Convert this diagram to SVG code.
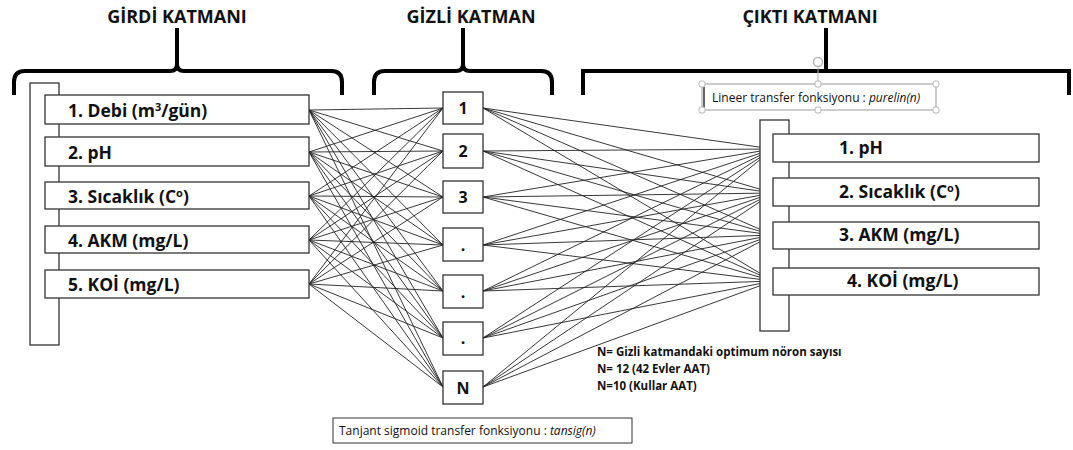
<svg xmlns="http://www.w3.org/2000/svg" width="1073" height="450" viewBox="0 0 1073 450">
  <style>
    .title { font-family: "Open Sans", "Liberation Sans", sans-serif; font-weight: 700; font-size: 18px; fill: #111; }
    .lbl { font-family: "Open Sans", "Liberation Sans", sans-serif; font-weight: 700; font-size: 17.5px; fill: #111; }
    .num { font-family: "Open Sans", "Liberation Sans", sans-serif; font-weight: 700; font-size: 16px; fill: #111; text-anchor: middle; }
    .note { font-family: "Open Sans", "Liberation Sans", sans-serif; font-weight: 700; font-size: 11.5px; fill: #111; }
    .small { font-family: "Open Sans", "Liberation Sans", sans-serif; font-size: 12px; fill: #111; }
    .box { fill: #fff; stroke: #333; stroke-width: 1.3; }
    .brace { fill: none; stroke: #000; stroke-width: 4; }
    .wire { fill: none; stroke: #222; stroke-width: 0.9; }
    .handle { fill: #fff; stroke: #b5b5b5; stroke-width: 1; }
  </style>

  <!-- layer titles and brackets -->
  <g id="layer-titles">
    <text class="title" x="177" y="23" text-anchor="middle">GİRDİ KATMANI</text>
    <text class="title" x="471" y="23" text-anchor="middle">GİZLİ KATMAN</text>
    <text class="title" x="810" y="23" text-anchor="middle">ÇIKTI KATMANI</text>
  </g>
  <g id="brackets">
    <path class="brace" d="M14 95V82Q14 71 25 71H170Q177 71 177 64V28M177 64Q177 71 184 71H331Q342 71 342 82V95"/>
    <path class="brace" d="M374 95V82Q374 71 385 71H456Q463 71 463 64V28M463 64Q463 71 470 71H541Q552 71 552 82V95"/>
    <path class="brace" d="M583 95V71H1069V95M826 71V28"/>
  </g>

  <!-- connectors -->
  <g id="connectors" class="wire">
    <path d="M309 110L443 108M309 110L443 151M309 110L443 197M309 110L443 245M309 110L443 291M309 110L443 338M309 110L443 387"/>
    <path d="M309 152L443 108M309 152L443 151M309 152L443 197M309 152L443 245M309 152L443 291M309 152L443 338M309 152L443 387"/>
    <path d="M309 196L443 108M309 196L443 151M309 196L443 197M309 196L443 245M309 196L443 291M309 196L443 338M309 196L443 387"/>
    <path d="M309 240L443 108M309 240L443 151M309 240L443 197M309 240L443 245M309 240L443 291M309 240L443 338M309 240L443 387"/>
    <path d="M309 284L443 108M309 284L443 151M309 284L443 197M309 284L443 245M309 284L443 291M309 284L443 338M309 284L443 387"/>
    <path d="M483 108L773 149M483 108L773 193M483 108L773 235M483 108L773 281"/>
    <path d="M483 151L773 149M483 151L773 193M483 151L773 235M483 151L773 281"/>
    <path d="M483 197L773 149M483 197L773 193M483 197L773 235M483 197L773 281"/>
    <path d="M483 245L773 149M483 245L773 193M483 245L773 235M483 245L773 281"/>
    <path d="M483 291L773 149M483 291L773 193M483 291L773 235M483 291L773 281"/>
    <path d="M483 338L773 149M483 338L773 193M483 338L773 235M483 338L773 281"/>
    <path d="M483 387L773 149M483 387L773 193M483 387L773 235M483 387L773 281"/>
  </g>

  <!-- input layer -->
  <g id="input-frame"><rect class="box" x="30" y="83" width="29" height="262"/></g>
  <g id="in1"><rect class="box" x="45" y="95" width="264" height="29"/><text class="lbl" x="68" y="116.5">1. Debi (m<tspan dy="-6" font-size="11">3</tspan><tspan dy="6">/gün)</tspan></text></g>
  <g id="in2"><rect class="box" x="45" y="137" width="264" height="29"/><text class="lbl" x="68" y="158.5">2. pH</text></g>
  <g id="in3"><rect class="box" x="45" y="182" width="264" height="27"/><text class="lbl" x="68" y="202.5">3. Sıcaklık (C<tspan dy="-6" font-size="11">o</tspan><tspan dy="6">)</tspan></text></g>
  <g id="in4"><rect class="box" x="45" y="226" width="264" height="27"/><text class="lbl" x="68" y="246.5">4. AKM (mg/L)</text></g>
  <g id="in5"><rect class="box" x="45" y="270" width="264" height="28"/><text class="lbl" x="68" y="291">5. KOİ (mg/L)</text></g>

  <!-- hidden layer -->
  <g id="h1"><rect class="box" x="443" y="92" width="40" height="32"/><text class="num" x="463" y="114">1</text></g>
  <g id="h2"><rect class="box" x="443" y="134" width="40" height="34"/><text class="num" x="463" y="157">2</text></g>
  <g id="h3"><rect class="box" x="443" y="181" width="40" height="32"/><text class="num" x="463" y="203">3</text></g>
  <g id="h4"><rect class="box" x="443" y="228" width="40" height="33"/><text class="num" x="463" y="251">.</text></g>
  <g id="h5"><rect class="box" x="443" y="275" width="40" height="33"/><text class="num" x="463" y="298">.</text></g>
  <g id="h6"><rect class="box" x="443" y="322" width="40" height="33"/><text class="num" x="463" y="344">.</text></g>
  <g id="hN"><rect class="box" x="443" y="371" width="40" height="33"/><text class="num" x="463" y="394">N</text></g>

  <!-- output layer -->
  <g id="output-frame"><rect class="box" x="760" y="120" width="29" height="211"/></g>
  <g id="out1"><rect class="box" x="773" y="134" width="266" height="28"/><text class="lbl" x="839" y="153.5">1. pH</text></g>
  <g id="out2"><rect class="box" x="773" y="178" width="266" height="28"/><text class="lbl" x="839" y="197.5">2. Sıcaklık (C<tspan dy="-6" font-size="11">o</tspan><tspan dy="6">)</tspan></text></g>
  <g id="out3"><rect class="box" x="773" y="222" width="266" height="27"/><text class="lbl" x="839" y="241">3. AKM (mg/L)</text></g>
  <g id="out4"><rect class="box" x="773" y="268" width="266" height="27"/><text class="lbl" x="847" y="287">4. KOİ (mg/L)</text></g>

  <!-- transfer function captions -->
  <g id="purelin-caption">
    <rect x="702" y="84" width="234" height="26" fill="#fff" stroke="#9a9a9a" stroke-width="1"/>
    <line x1="704" y1="87" x2="704" y2="108" stroke="#333" stroke-width="1.5"/>
    <text class="small" x="712" y="101.5">Lineer transfer fonksiyonu : <tspan font-style="italic">purelin(n)</tspan></text>
    <line x1="818" y1="66" x2="818" y2="84" stroke="#b5b5b5" stroke-width="1"/>
    <circle cx="818" cy="62" r="4.5" fill="#fff" stroke="#b5b5b5" stroke-width="1.5"/>
    <rect class="handle" x="699" y="81" width="6" height="6" rx="2"/>
    <rect class="handle" x="815" y="81" width="6" height="6" rx="2"/>
    <rect class="handle" x="933" y="81" width="6" height="6" rx="2"/>
    <rect class="handle" x="699" y="107" width="6" height="6" rx="2"/>
    <rect class="handle" x="815" y="107" width="6" height="6" rx="2"/>
    <rect class="handle" x="933" y="107" width="6" height="6" rx="2"/>
  </g>
  <g id="tansig-caption">
    <rect x="333" y="418" width="299" height="25" fill="#fff" stroke="#333" stroke-width="1"/>
    <text class="small" x="339" y="434.5">Tanjant sigmoid transfer fonksiyonu : <tspan font-style="italic">tansig(n)</tspan></text>
  </g>

  <!-- note on hidden neuron count -->
  <g id="neuron-note">
    <text class="note" x="597" y="356">N= Gizli katmandaki optimum nöron sayısı</text>
    <text class="note" x="597" y="373">N= 12 (42 Evler AAT)</text>
    <text class="note" x="597" y="390">N=10 (Kullar AAT)</text>
  </g>
</svg>
